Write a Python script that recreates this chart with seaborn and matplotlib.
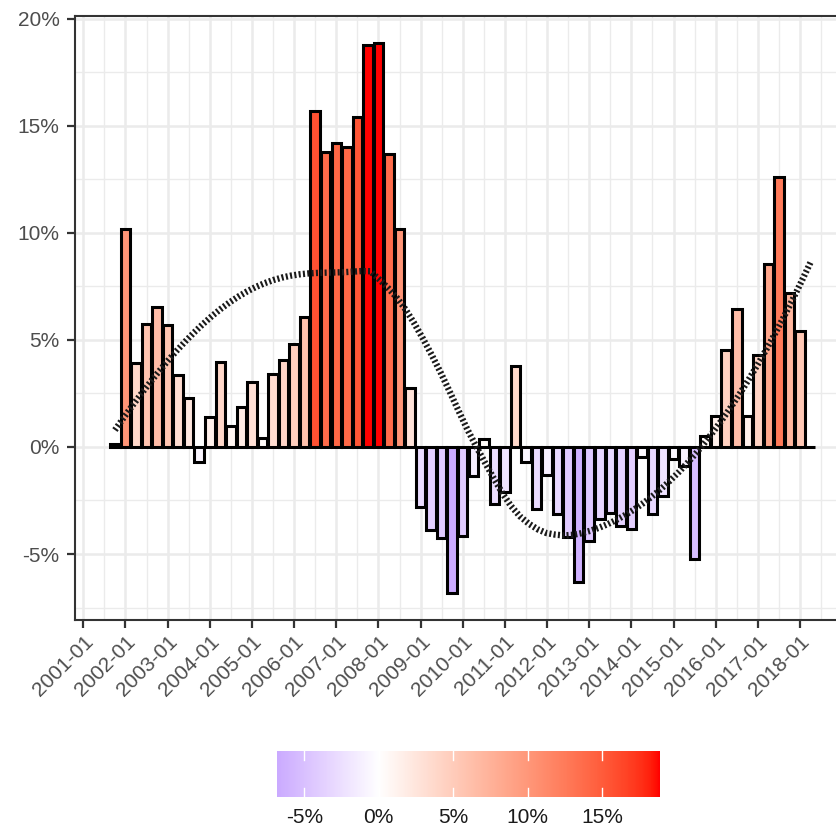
import numpy as np
import pandas as pd
import matplotlib
matplotlib.use("Agg")
import matplotlib.pyplot as plt
import matplotlib.colors as mcolors
import matplotlib.transforms as mtransforms
import seaborn as sns

# Quarterly year-over-year change (%), 2001-10 .. 2018-04
quarters = pd.date_range("2001-10-01", "2018-04-01", freq="QS")
change_pct = [
    0.15,
    10.2, 3.9, 5.75, 6.55,
    5.7, 3.35, 2.3, -0.7,
    1.4, 3.95, 1.0, 1.85,
    3.05, 0.4, 3.4, 4.05,
    4.8, 6.05, 15.7, 13.8,
    14.2, 14.0, 15.4, 18.8,
    18.85, 13.7, 10.2, 2.75,
    -2.8, -3.9, -4.25, -6.8,
    -4.15, -1.35, 0.35, -2.65,
    -2.1, 3.8, -0.7, -2.9,
    -1.3, -3.15, -4.2, -6.3,
    -4.4, -3.35, -3.1, -3.7,
    -3.85, -0.45, -3.15, -2.3,
    -0.55, -0.9, -5.25, 0.5,
    1.45, 4.55, 6.45, 1.45,
    4.3, 8.55, 12.6, 7.2,
    5.4, 0.0,
]
tick_years = list(range(2001, 2019))
tick_labels = [f"{y}-01" for y in tick_years]
y_breaks = [-5, 0, 5, 10, 15, 20]
legend_breaks = [-5, 0, 5, 10, 15]

df = pd.DataFrame({"date": quarters, "change": change_pct})
df["t"] = df["date"].dt.year + (df["date"].dt.month - 1) / 12.0


# ---- diverging fill: blue - white - red, interpolated in CIELAB ----
_M = np.array([[0.4124564, 0.3575761, 0.1804375],
               [0.2126729, 0.7151522, 0.0721750],
               [0.0193339, 0.1191920, 0.9503041]])
_WP = np.array([0.95047, 1.0, 1.08883])


def rgb_to_lab(rgb):
    rgb = np.asarray(rgb, float)
    c = np.where(rgb <= 0.04045, rgb / 12.92, ((rgb + 0.055) / 1.055) ** 2.4)
    t = (c @ _M.T) / _WP
    d = 6 / 29
    f = np.where(t > d ** 3, np.cbrt(t), t / (3 * d * d) + 4 / 29)
    return np.stack([116 * f[..., 1] - 16,
                     500 * (f[..., 0] - f[..., 1]),
                     200 * (f[..., 1] - f[..., 2])], -1)


def lab_to_rgb(lab):
    L, a, b = lab[..., 0], lab[..., 1], lab[..., 2]
    fy = (L + 16) / 116
    fx = fy + a / 500
    fz = fy - b / 200
    d = 6 / 29
    finv = lambda f: np.where(f > d, f ** 3, 3 * d * d * (f - 4 / 29))
    xyz = np.stack([finv(fx), finv(fy), finv(fz)], -1) * _WP
    c = xyz @ np.linalg.inv(_M).T
    c = np.clip(c, 0, None)
    rgb = np.where(c <= 0.0031308, 12.92 * c, 1.055 * c ** (1 / 2.4) - 0.055)
    return np.clip(rgb, 0, 1)


def lab_ramp(low, mid, high, n=512):
    stops = rgb_to_lab(np.array([mcolors.to_rgb(low), mcolors.to_rgb(mid), mcolors.to_rgb(high)]))
    t = np.linspace(0, 1, n)
    out = np.empty((n, 3))
    lo = t <= 0.5
    s = (t[lo] / 0.5)[:, None]
    out[lo] = stops[0] + (stops[1] - stops[0]) * s
    s = ((t[~lo] - 0.5) / 0.5)[:, None]
    out[~lo] = stops[1] + (stops[2] - stops[1]) * s
    return mcolors.ListedColormap(lab_to_rgb(out))


cmap = lab_ramp("blue", "white", "red")
vals = np.asarray(change_pct)
half = np.abs(vals).max()
norm = mcolors.Normalize(vmin=-half, vmax=half)


# ---- local quadratic regression (tricube weights, span 0.75) ----
def loess(x, y, xs, span=0.75):
    n = len(x)
    q = int(np.floor(n * span))
    fit = np.empty(len(xs))
    for i, x0 in enumerate(xs):
        d = np.abs(x - x0)
        h = np.sort(d)[q - 1]
        w = np.clip(1 - (d / h) ** 3, 0, None) ** 3
        X = np.column_stack([np.ones(n), x - x0, (x - x0) ** 2])
        W = np.sqrt(w)
        beta, *_ = np.linalg.lstsq(X * W[:, None], y * W, rcond=None)
        fit[i] = beta[0]
    return fit


xs = np.linspace(df["t"].min(), df["t"].max(), 80)
trend = loess(df["t"].to_numpy(), vals, xs)

# ---- figure ----
W, H, DPI = 837, 827, 100
fig = plt.figure(figsize=(W / DPI, H / DPI), dpi=DPI)
plt.rcParams["font.family"] = ["Liberation Sans", "DejaVu Sans"]

# x limits: bar extent plus 5% on each side
xlo = df["t"].min() - 0.1125
xhi = df["t"].max() + 0.1125
xr = xhi - xlo
xlim = (xlo - 0.05 * xr, xhi + 0.05 * xr)
px_per_year = 42.16
ax_left_px = 83.3 - (tick_years[0] - xlim[0]) * px_per_year
ax_width_px = (xlim[1] - xlim[0]) * px_per_year
ax = fig.add_axes([ax_left_px / W, 1 - 620 / H, ax_width_px / W, (620 - 16) / H])
ax.set_facecolor("white")

sns.barplot(data=df, x="t", y="change", native_scale=True, width=0.9,
            color="white", edgecolor="black", linewidth=2.2,
            errorbar=None, ax=ax, zorder=3)
for patch, v in zip(ax.patches, vals):
    patch.set_facecolor(cmap(norm(v)))

ax.plot(xs, trend, color="#1A1A1A", lw=4.6, dashes=(0.32, 0.36),
        dash_capstyle="butt", zorder=4)

# scales
rng = vals.max() - vals.min()
ax.set_ylim(vals.min() - 0.05 * rng, vals.max() + 0.05 * rng)
ax.set_xlim(*xlim)

ax.set_xticks(tick_years)
ax.set_xticklabels(tick_labels, rotation=45, ha="right", va="top",
                   rotation_mode="anchor")
shift = mtransforms.ScaledTranslation(11 / DPI, -2 / DPI, fig.dpi_scale_trans)
for lab in ax.get_xticklabels():
    lab.set_transform(lab.get_transform() + shift)
ax.set_xticks([y + 0.5 for y in tick_years], minor=True)
ax.set_yticks(y_breaks)
ax.set_yticklabels([f"{b}%" for b in y_breaks])
ax.set_yticks([b + 2.5 for b in [-10] + y_breaks[:-1]], minor=True)

ax.grid(which="major", color="#EBEBEB", lw=1.8)
ax.grid(which="minor", color="#EBEBEB", lw=1.0)
ax.set_axisbelow(True)

ax.tick_params(which="major", length=5.5, width=1.6, color="#333333",
               labelsize=15, labelcolor="#4D4D4D")
ax.tick_params(axis="x", pad=3)
ax.tick_params(axis="y", pad=5.5)
ax.tick_params(which="minor", length=0)
for s in ax.spines.values():
    s.set_color("#333333")
    s.set_linewidth(1.5)
ax.set_xlabel("")
ax.set_ylabel("")

# ---- colour bar legend ----
lo_v, hi_v = vals.min(), vals.max()
px_per_pct = 14.9
cb_left = 304.3 - (-5 - lo_v) * px_per_pct
cb_width = (hi_v - lo_v) * px_per_pct
cax = fig.add_axes([cb_left / W, 1 - 797 / H, cb_width / W, 46 / H])
grad = np.linspace(lo_v, hi_v, 300)[None, :]
cax.imshow(grad, extent=[lo_v, hi_v, 0, 1], aspect="auto", cmap=cmap,
           norm=norm, interpolation="bilinear")
for b in legend_breaks:
    cax.plot([b, b], [0, 0.2], color="white", lw=1.0)
    cax.plot([b, b], [0.8, 1], color="white", lw=1.0)
cax.set_xlim(lo_v, hi_v)
cax.set_ylim(0, 1)
cax.set_yticks([])
cax.set_xticks(legend_breaks)
cax.set_xticklabels([f"{b}%" for b in legend_breaks])
cax.tick_params(axis="x", length=0, labelsize=15, labelcolor="#1A1A1A", pad=8)
for s in cax.spines.values():
    s.set_visible(False)

fig.savefig("out.png", dpi=DPI, facecolor="white")
